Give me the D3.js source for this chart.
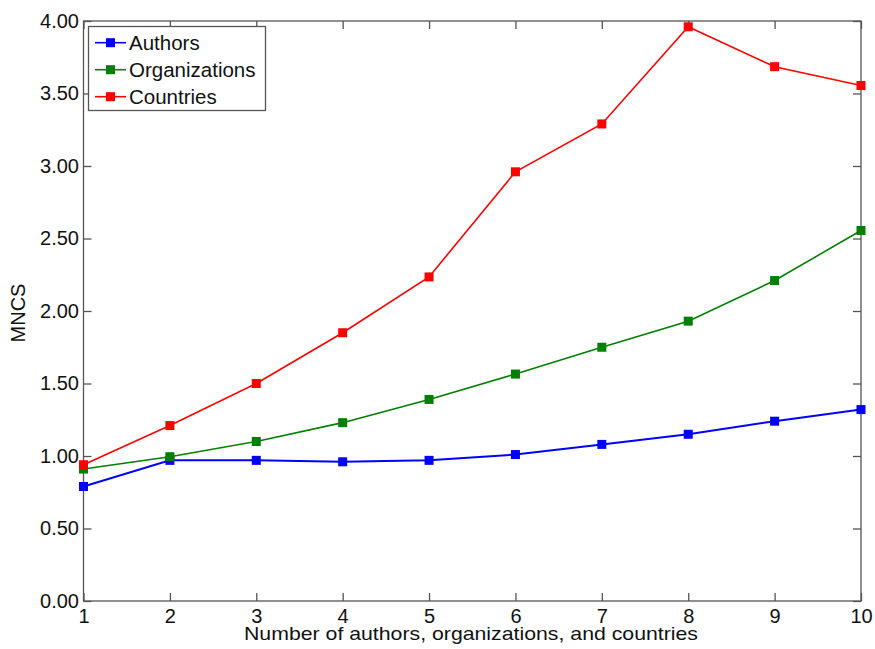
<!DOCTYPE html>
<html><head><meta charset="utf-8">
<script src="https://cdn.jsdelivr.net/npm/d3@7"></script>
<style>body{margin:0;background:#fff}svg{display:block}text{font-family:"Liberation Sans",Arial,sans-serif;fill:#111}</style>
</head><body>
<svg id="c" width="875" height="649"></svg>
<script>
const xValues = [1,2,3,4,5,6,7,8,9,10];
const authors = [0.79,0.97,0.97,0.96,0.97,1.01,1.08,1.15,1.24,1.32];
const organizations = [0.91,0.995,1.10,1.23,1.39,1.565,1.75,1.93,2.21,2.555];
const countries = [0.94,1.21,1.50,1.85,2.235,2.96,3.29,3.96,3.685,3.555];
const seriesNames = ["Authors","Organizations","Countries"];
const seriesColors = ["#0000ff","#008000","#ff0000"];
const yTicks = [0,0.5,1,1.5,2,2.5,3,3.5,4];
const xLabel = "Number of authors, organizations, and countries";
const yLabel = "MNCS";

const svg = d3.select("#c");
const L=83.5, R=861, T=21, B=601;
const x = d3.scaleLinear().domain([1,10]).range([L,R]);
const y = d3.scaleLinear().domain([0,4]).range([B,T]);
const axisColor="#555";
const fs="20px";

const g = svg.append("g");
g.append("rect").attr("x",L).attr("y",T).attr("width",R-L).attr("height",B-T)
 .attr("fill","none").attr("stroke",axisColor).attr("stroke-width",1.3);

function styleAxis(sel, hide){
  sel.select(".domain").remove();
  sel.selectAll(".tick line").attr("stroke",axisColor).attr("stroke-width",1.3);
  sel.selectAll(".tick text").attr("font-size",fs).style("font-family","Liberation Sans, Arial, sans-serif").attr("fill","#111");
  if(hide) sel.selectAll(".tick text").remove();
}
g.append("g").attr("transform",`translate(0,${B})`)
 .call(d3.axisBottom(x).tickValues(xValues).tickFormat(d3.format("d")).tickSizeInner(-8).tickPadding(8))
 .call(s=>styleAxis(s,false));
g.append("g").attr("transform",`translate(0,${T})`)
 .call(d3.axisTop(x).tickValues(xValues).tickSizeInner(-8)).call(s=>styleAxis(s,true));
g.append("g").attr("transform",`translate(${L},0)`)
 .call(d3.axisLeft(y).tickValues(yTicks).tickFormat(d3.format(".2f")).tickSizeInner(-8).tickPadding(4.5))
 .call(s=>styleAxis(s,false));
g.append("g").attr("transform",`translate(${R},0)`)
 .call(d3.axisRight(y).tickValues(yTicks).tickSizeInner(-8)).call(s=>styleAxis(s,true));

const data = [authors, organizations, countries];
const widths=[2,1.6,1.6];
const line = d3.line().x((d,i)=>x(xValues[i])).y(d=>y(d));
const ms=9;
data.forEach((vals,k)=>{
  g.append("path").datum(vals).attr("d",line).attr("fill","none")
   .attr("stroke",seriesColors[k]).attr("stroke-width",widths[k]);
  g.selectAll(null).data(vals).enter().append("rect")
   .attr("x",(d,i)=>x(xValues[i])-ms/2).attr("y",d=>y(d)-ms/2)
   .attr("width",ms).attr("height",ms).attr("fill",seriesColors[k]);
});

const lg = svg.append("g");
lg.append("rect").attr("x",88.5).attr("y",26.5).attr("width",177).attr("height",84)
 .attr("fill","#fff").attr("stroke",axisColor).attr("stroke-width",1.3);
seriesNames.forEach((n,k)=>{
  const yy = 42.7 + k*27;
  lg.append("line").attr("x1",95).attr("x2",126).attr("y1",yy).attr("y2",yy)
    .attr("stroke",seriesColors[k]).attr("stroke-width",1.6);
  lg.append("rect").attr("x",110.5-ms/2).attr("y",yy-ms/2).attr("width",ms).attr("height",ms).attr("fill",seriesColors[k]);
  lg.append("text").attr("x",129).attr("y",yy).attr("dy","0.36em").attr("font-size","20.5px").text(n);
});

svg.append("text").attr("x",471).attr("y",639.5).attr("text-anchor","middle").attr("font-size","19px")
 .attr("textLength",454).attr("lengthAdjust","spacingAndGlyphs").text(xLabel);
svg.append("text").attr("transform",`translate(24.5,${(T+B)/2+2}) rotate(-90)`).attr("text-anchor","middle").attr("font-size",fs).text(yLabel);
</script>
</body></html>
